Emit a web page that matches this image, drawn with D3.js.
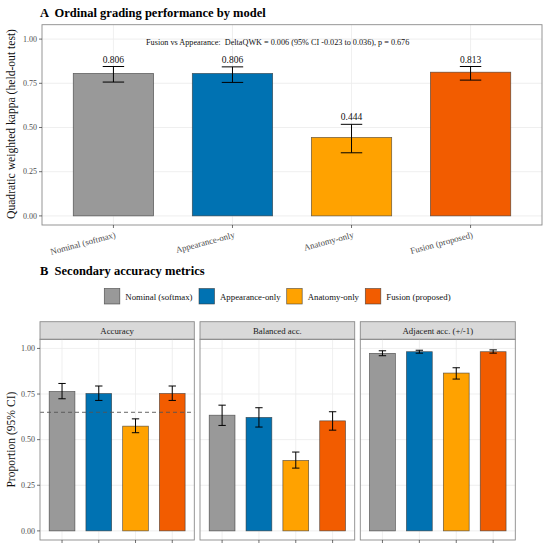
<!DOCTYPE html>
<html><head><meta charset="utf-8">
<script src="https://cdn.jsdelivr.net/npm/d3@7"></script>
<style>
body{margin:0;background:#fff;}
svg{font-family:"Liberation Serif","Times New Roman",serif;}
text{white-space:pre;}
</style></head>
<body><svg id="c" width="550" height="551"></svg>
<script>
// ---- data ----
const models = ["Nominal (softmax)", "Appearance-only", "Anatomy-only", "Fusion (proposed)"];
const colors = ["#999999", "#0072B2", "#FFA200", "#F25C00"];
const qwk = [0.806, 0.806, 0.444, 0.813];
const qwkLo = [0.757, 0.755, 0.357, 0.768];
const qwkHi = [0.845, 0.843, 0.518, 0.845];
const qwkTicks = [0, 0.25, 0.5, 0.75, 1.0];
const annotation = "Fusion vs Appearance:  DeltaQWK = 0.006 (95% CI -0.023 to 0.036), p = 0.676";

const metrics = ["Accuracy", "Balanced acc.", "Adjacent acc. (+/-1)"];
const accVal = [0.764, 0.753, 0.574, 0.753];
const accLo  = [0.724, 0.715, 0.538, 0.715];
const accHi  = [0.808, 0.794, 0.614, 0.794];
const balVal = [0.634, 0.622, 0.386, 0.603];
const balLo  = [0.578, 0.569, 0.344, 0.552];
const balHi  = [0.689, 0.675, 0.432, 0.653];
const adjVal = [0.973, 0.982, 0.865, 0.982];
const adjLo  = [0.960, 0.974, 0.832, 0.974];
const adjHi  = [0.987, 0.990, 0.894, 0.992];
const baselineAcc = 0.65;
const propTicks = [0, 0.25, 0.5, 0.75, 1.0];

const svg = d3.select("#c");
const gridCol = "#ebebeb", borderCol = "#8a8a8a", tickTextCol = "#4d4d4d";

function panel(g, x0, x1, y0, y1, yDomain, ticks, vals, lo, hi, barW, capW, opts) {
  const xp = d3.scalePoint().domain(models).range([x0, x1]).padding(0.6);
  const unit = xp.step();
  const y = d3.scaleLinear().domain(yDomain).range([y1, y0]);
  // grid
  g.selectAll(null).data(ticks).join("line")
    .attr("x1", x0).attr("x2", x1).attr("y1", d => y(d)).attr("y2", d => y(d))
    .attr("stroke", gridCol).attr("stroke-width", 0.8);
  g.selectAll(null).data(models).join("line")
    .attr("x1", d => xp(d)).attr("x2", d => xp(d)).attr("y1", y0).attr("y2", y1)
    .attr("stroke", gridCol).attr("stroke-width", 0.8);
  // bars
  g.selectAll(null).data(models).join("rect")
    .attr("x", d => xp(d) - barW * unit / 2).attr("width", barW * unit)
    .attr("y", (d, i) => y(vals[i])).attr("height", (d, i) => y(0) - y(vals[i]))
    .attr("fill", (d, i) => colors[i]).attr("stroke", "#333").attr("stroke-opacity", 0.75).attr("stroke-width", 0.7);
  if (opts.baseline !== undefined) {
    g.append("line").attr("x1", x0).attr("x2", x1)
      .attr("y1", y(opts.baseline)).attr("y2", y(opts.baseline))
      .attr("stroke", "#555").attr("stroke-width", 0.9).attr("stroke-dasharray", "4,3");
  }
  // error bars
  models.forEach((m, i) => {
    const cx = xp(m), hw = capW * unit / 2;
    g.append("line").attr("x1", cx).attr("x2", cx).attr("y1", y(lo[i])).attr("y2", y(hi[i])).attr("stroke", "#000").attr("stroke-width", 1);
    g.append("line").attr("x1", cx - hw).attr("x2", cx + hw).attr("y1", y(lo[i])).attr("y2", y(lo[i])).attr("stroke", "#000").attr("stroke-width", 1);
    g.append("line").attr("x1", cx - hw).attr("x2", cx + hw).attr("y1", y(hi[i])).attr("y2", y(hi[i])).attr("stroke", "#000").attr("stroke-width", 1);
    if (opts.labels) {
      g.append("text").attr("x", cx).attr("y", y(hi[i]) - 4).attr("text-anchor", "middle")
        .attr("font-size", 9.5).attr("fill", "#111").text(vals[i].toFixed(3));
    }
  });
  // border
  g.append("rect").attr("x", x0).attr("y", y0).attr("width", x1 - x0).attr("height", y1 - y0)
    .attr("fill", "none").attr("stroke", borderCol).attr("stroke-width", 0.9);
  // x ticks
  g.selectAll(null).data(models).join("line")
    .attr("x1", d => xp(d)).attr("x2", d => xp(d)).attr("y1", y1).attr("y2", y1 + 3)
    .attr("stroke", "#333").attr("stroke-width", 0.7);
  if (opts.yAxis) {
    g.selectAll(null).data(ticks).join("line")
      .attr("x1", x0 - 3).attr("x2", x0).attr("y1", d => y(d)).attr("y2", d => y(d))
      .attr("stroke", "#333").attr("stroke-width", 0.7);
    g.selectAll(null).data(ticks).join("text")
      .attr("x", x0 - 5).attr("y", d => y(d)).attr("dy", "0.35em").attr("text-anchor", "end")
      .attr("font-size", 8).attr("fill", tickTextCol).text(d => d.toFixed(2));
  }
  if (opts.xLabels) {
    models.forEach(m => {
      g.append("text").attr("transform", `translate(${xp(m) + 1},${y1 + 6}) rotate(-15)`)
        .attr("dy", "0.75em").attr("text-anchor", "end").attr("font-size", 8.8)
        .attr("fill", tickTextCol).text(m);
    });
  }
  return { xp, y };
}

// ---- Panel A ----
svg.append("text").attr("x", 40).attr("y", 17).attr("font-size", 12.5).attr("font-weight", "bold").text("A  Ordinal grading performance by model");
const gA = svg.append("g");
const A = panel(gA, 42, 542, 24.7, 225, [-0.0515, 1.0815], qwkTicks, qwk, qwkLo, qwkHi, 0.675, 0.18, { labels: true, yAxis: true, xLabels: true });
gA.append("text").attr("x", 277.7).attr("y", A.y(1.0) + 5.5).attr("text-anchor", "middle")
  .attr("font-size", 8.2).attr("fill", "#111").text(annotation);
svg.append("text").attr("transform", `translate(15,124) rotate(-90)`).attr("text-anchor", "middle")
  .attr("font-size", 11.6).attr("fill", "#111").text("Quadratic weighted kappa (held-out test)");

// ---- Panel B ----
svg.append("text").attr("x", 40).attr("y", 274.5).attr("font-size", 12.5).attr("font-weight", "bold").text("B  Secondary accuracy metrics");
// legend
const legX = [104.3, 199, 286.7, 365.3];
models.forEach((m, i) => {
  svg.append("rect").attr("x", legX[i]).attr("y", 288.5).attr("width", 15.5).attr("height", 15.5)
    .attr("fill", colors[i]).attr("stroke", "#333").attr("stroke-opacity", 0.75).attr("stroke-width", 0.7);
  svg.append("text").attr("x", legX[i] + 21).attr("y", 296.5).attr("dy", "0.35em")
    .attr("font-size", 8.8).attr("fill", "#111").text(m);
});
const facets = [
  { name: metrics[0], x0: 40, x1: 194.3, v: accVal, lo: accLo, hi: accHi, base: baselineAcc },
  { name: metrics[1], x0: 200, x1: 354.7, v: balVal, lo: balLo, hi: balHi },
  { name: metrics[2], x0: 360.3, x1: 515.3, v: adjVal, lo: adjLo, hi: adjHi }
];
const stripTop = 321.7, stripBot = 339.3, pBot = 540;
facets.forEach((f, k) => {
  const g = svg.append("g");
  g.append("rect").attr("x", f.x0).attr("y", stripTop).attr("width", f.x1 - f.x0).attr("height", stripBot - stripTop)
    .attr("fill", "#d9d9d9").attr("stroke", borderCol).attr("stroke-width", 0.9);
  g.append("text").attr("x", (f.x0 + f.x1) / 2).attr("y", (stripTop + stripBot) / 2).attr("dy", "0.35em")
    .attr("text-anchor", "middle").attr("font-size", 8.8).attr("fill", "#1a1a1a").text(f.name);
  panel(g, f.x0, f.x1, stripBot, pBot, [-0.05, 1.05], propTicks, f.v, f.lo, f.hi, 0.7, 0.2,
    { baseline: f.base, yAxis: k === 0 });
});
svg.append("text").attr("transform", `translate(15,439.6) rotate(-90)`).attr("text-anchor", "middle")
  .attr("font-size", 11.6).attr("fill", "#111").text("Proportion (95% CI)");
</script></body></html>
